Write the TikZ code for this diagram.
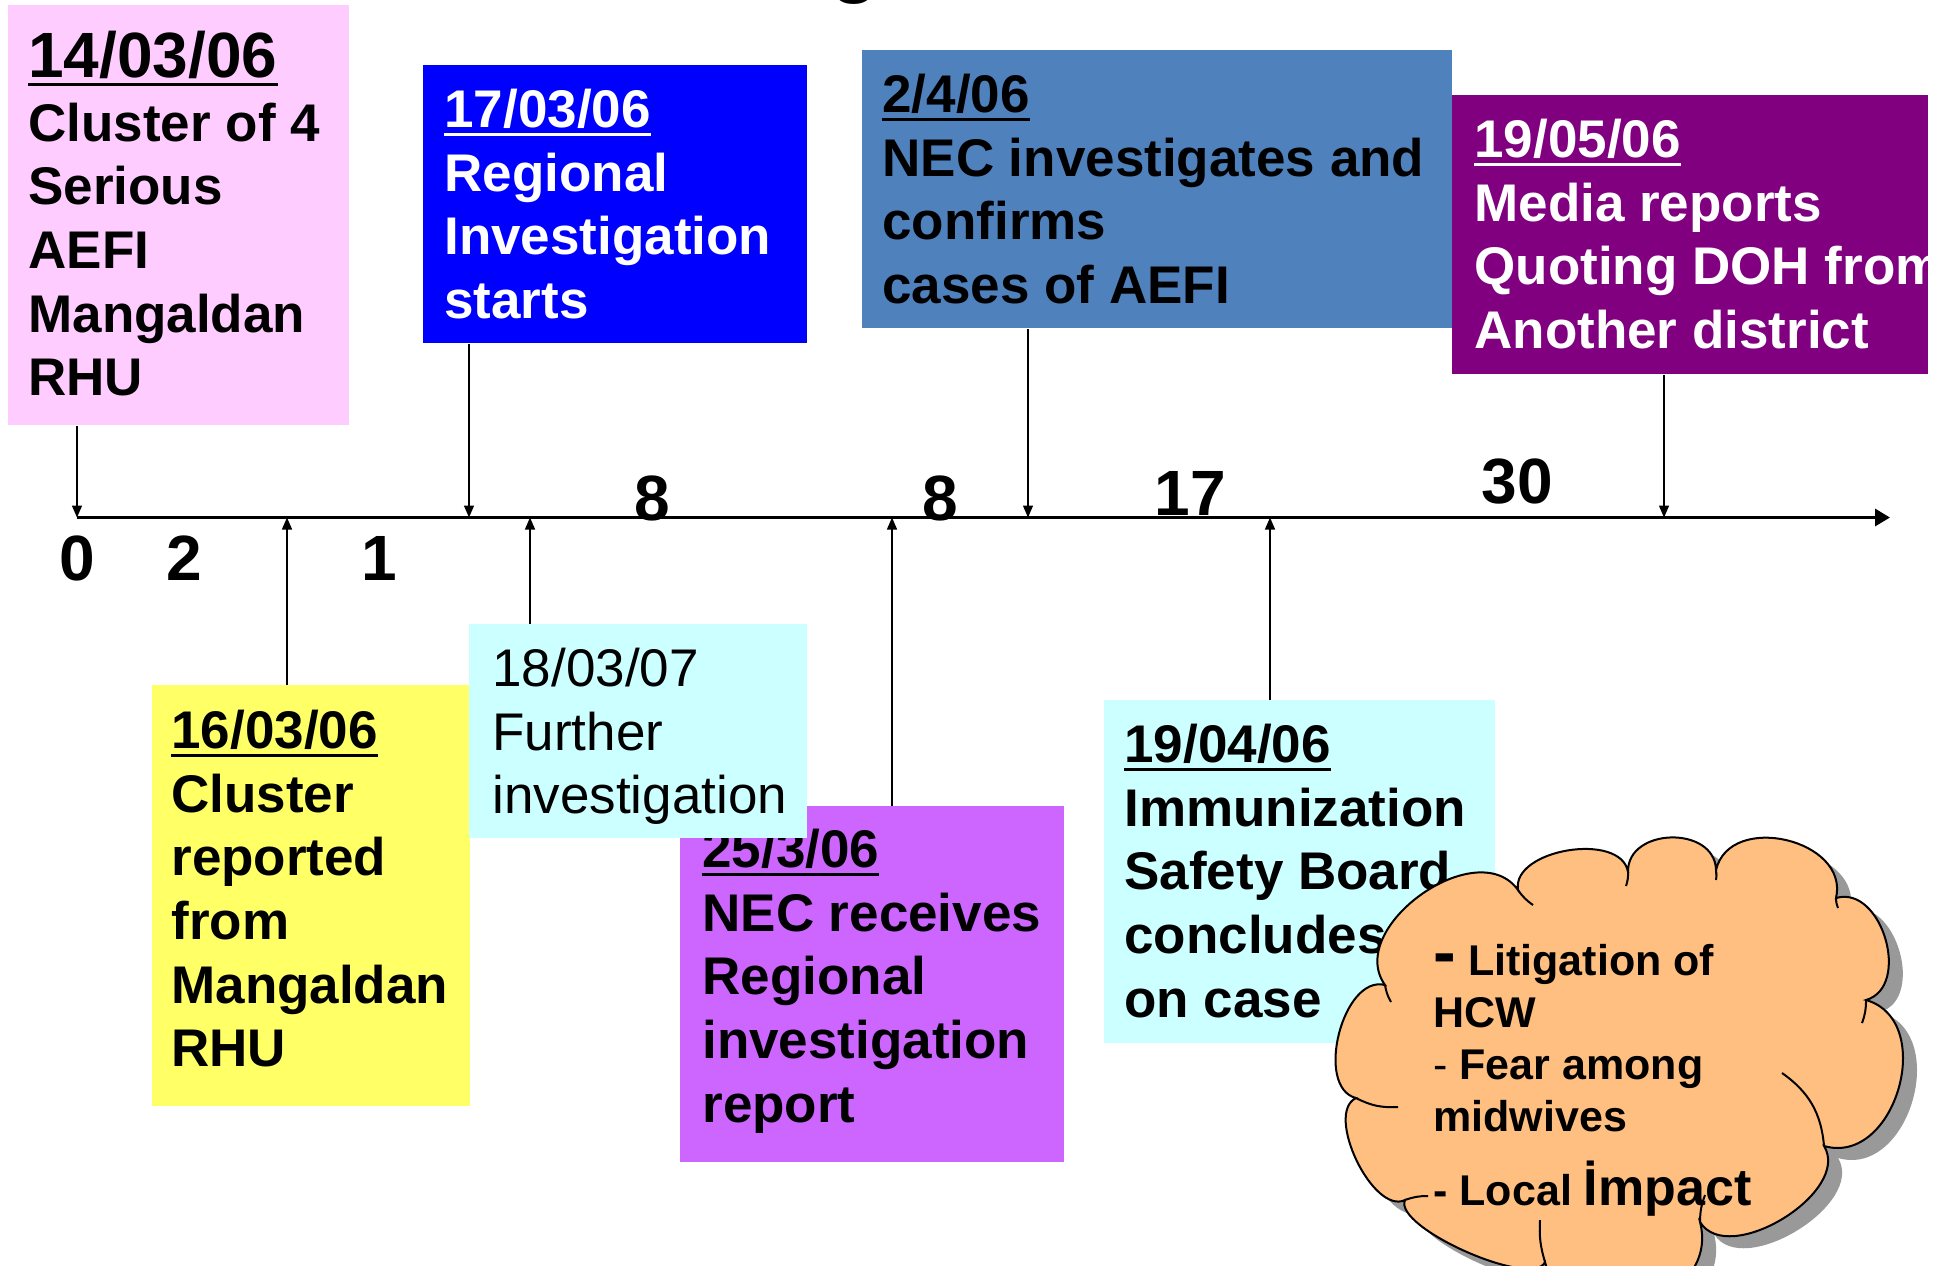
\documentclass[tikz,border=0pt]{standalone}
\usepackage{fontspec}
\setmainfont{Liberation Sans}
\definecolor{pinkbox}{HTML}{FFCCFF}
\definecolor{bluebox}{HTML}{0000FF}
\definecolor{steelbox}{HTML}{4F81BD}
\definecolor{plumbox}{HTML}{800080}
\definecolor{yellowbox}{HTML}{FFFF66}
\definecolor{cyanbox}{HTML}{CCFFFF}
\definecolor{violetbox}{HTML}{CC66FF}
\definecolor{cloudfill}{HTML}{FFBF80}
\usetikzlibrary{arrows.meta,shadows}
\newcommand\datemark[1]{\setbox0\hbox{#1}\rlap{\rule[-4.25pt]{\wd0}{1.5pt}}\box0}
\newcommand\firstline{\rule{0pt}{25pt}}

\begin{document}
\begin{tikzpicture}[x=0.5pt,y=-0.5pt,
  evbox/.style={rectangle,inner sep=0pt,anchor=north west},
  evtext/.style={anchor=north west,inner sep=0pt,align=left,font=\fontsize{26.5}{31.85}\selectfont\bfseries},
  tick/.style={-{Triangle[length=6pt,width=5pt]},line width=0.7pt},
  daynum/.style={anchor=base,inner sep=0pt,font=\fontsize{32}{38}\selectfont\bfseries}]
\useasboundingbox (0,0) rectangle (1946,1265);
\node[anchor=base,inner sep=0pt,font=\fontsize{40}{40}\selectfont\bfseries] (titleg) at (855,-13) {g};

\node[evbox,fill=pinkbox,minimum width=170.5pt,minimum height=210pt] (box1403) at (8,5) {};
\node[evtext] (txt1403) at (28,27) {\firstline{\fontsize{32}{31.85}\selectfont\datemark{14/03/06}}\\Cluster of 4\\Serious\\AEFI\\Mangaldan\\RHU};
\node[evbox,fill=bluebox,minimum width=192pt,minimum height=139pt] (box1703) at (423,65) {};
\node[evtext,text=white] (txt1703) at (444,77) {\firstline\datemark{17/03/06}\\Regional\\Investigation\\starts};
\node[evbox,fill=steelbox,minimum width=295pt,minimum height=139pt] (box0204) at (862,50) {};
\node[evtext] (txt0204) at (882,62) {\firstline\datemark{2/4/06}\\NEC investigates and\\confirms\\cases of AEFI};
\node[evbox,fill=plumbox,minimum width=238pt,minimum height=139.5pt] (box1905) at (1452,95) {};
\node[evtext,text=white] (txt1905) at (1474,107) {\firstline\datemark{19/05/06}\\Media reports\\Quoting DOH from\\Another district};

\node[evbox,fill=yellowbox,minimum width=159pt,minimum height=210.5pt] (box1603) at (152,685) {};
\node[evtext] (txt1603) at (171,698) {\firstline\datemark{16/03/06}\\Cluster\\reported\\from\\Mangaldan\\RHU};
\node[evbox,fill=violetbox,minimum width=192pt,minimum height=178pt] (box2503) at (680,806) {};
\node[evtext] (txt2503) at (702,817) {\firstline\datemark{25/3/06}\\NEC receives\\Regional\\investigation\\report};
\node[evbox,fill=cyanbox,minimum width=169pt,minimum height=107pt] (box1803) at (469,624) {};
\node[evtext,font=\fontsize{26.5}{31.85}\selectfont\mdseries] (txt1803) at (492,636) {\firstline 18/03/07\\Further\\investigation};
\node[evbox,fill=cyanbox,minimum width=195.5pt,minimum height=171.5pt] (box1904) at (1104,700) {};
\node[evtext] (txt1904) at (1124,712) {\firstline\datemark{19/04/06}\\Immunization\\Safety Board\\concludes\\on case};

\coordinate (axL) at (77,517.5);
\coordinate (axR) at (1890,517.5);
\coordinate (m1403) at (77,517.5);
\coordinate (m1603) at (287,517.5);
\coordinate (m1703) at (469,517.5);
\coordinate (m1803) at (530,517.5);
\coordinate (m2503) at (892,517.5);
\coordinate (m0204) at (1028,517.5);
\coordinate (m1904) at (1270,517.5);
\coordinate (m1905) at (1664,517.5);
\draw[line width=1.6pt,-{Triangle[length=7.5pt,width=8.5pt]}] (axL) -- (axR);
\draw[tick] (m1403 |- box1403.south) -- (m1403);
\draw[tick] (m1703 |- box1703.south) -- (m1703);
\draw[tick] (m0204 |- box0204.south) -- (m0204);
\draw[tick] (m1905 |- box1905.south) -- (m1905);
\draw[tick] (m1603 |- box1603.north) -- (m1603);
\draw[tick] (m1803 |- box1803.north) -- (m1803);
\draw[tick] (m2503 |- box2503.north) -- (m2503);
\draw[tick] (m1904 |- box1904.north) -- (m1904);

\node[daynum] (n0) at (77,580) {0};
\node[daynum] (n2) at (184,580) {2};
\node[daynum] (n1) at (379,580) {1};
\node[daynum] (n8a) at (652,520) {8};
\node[daynum] (n8b) at (940,520) {8};
\node[daynum] (n17) at (1190,515) {17};
\node[daynum] (n30) at (1517,503) {30};

\path[draw,line width=1pt,fill=cloudfill,drop shadow={shadow xshift=7pt,shadow yshift=-6pt,fill=black!40,opacity=1}]
  (1385,985) to[bend left=90,looseness=1.1] (1518,890)
  to[bend left=90,looseness=0.95] (1628,872)
  to[bend left=90,looseness=1.3] (1716,870)
  to[bend left=90,looseness=1.25] (1836,898)
  to[bend left=90,looseness=1.15] (1866,1000)
  to[bend left=90,looseness=1.25] (1824,1146)
  to[bend left=90,looseness=0.95] (1700,1222)
  to[bend left=90,looseness=1.4] (1545,1262)
  to[bend left=90,looseness=0.5] (1405,1200)
  to[bend left=90,looseness=0.8] (1356,1098)
  to[bend left=90,looseness=0.95] (1385,985) -- cycle;
\draw[line width=1pt] (1385,985) to[bend right=10] (1391,1002);
\draw[line width=1pt] (1518,890) to[bend right=10] (1533,905);
\draw[line width=1pt] (1628,872) to[bend left=10] (1626,886);
\draw[line width=1pt] (1716,870) to[bend left=10] (1716,880);
\draw[line width=1pt] (1836,898) to[bend right=10] (1838,908);
\draw[line width=1pt] (1866,1000) to[bend left=10] (1862,1023);
\draw[line width=1pt] (1824,1146) to[bend right=25] (1782,1073);
\draw[line width=1pt] (1700,1222) to[bend left=10] (1705,1195);
\draw[line width=1pt] (1545,1262) to[bend left=10] (1540,1220);
\draw[line width=1pt] (1405,1200) to[bend left=10] (1428,1196);
\draw[line width=1pt] (1356,1098) to[bend right=15] (1398,1107);
\node[evtext,font=\fontsize{21.5}{26}\selectfont\bfseries] (impacts) at (1433,925) {\firstline{\fontsize{34}{26}\selectfont -}\hspace{6pt}Litigation of\\HCW\\{\mdseries -} Fear among\\midwives\\[11pt]- Local {\fontsize{26}{26}\selectfont İmpact}};
\end{tikzpicture}
\end{document}
